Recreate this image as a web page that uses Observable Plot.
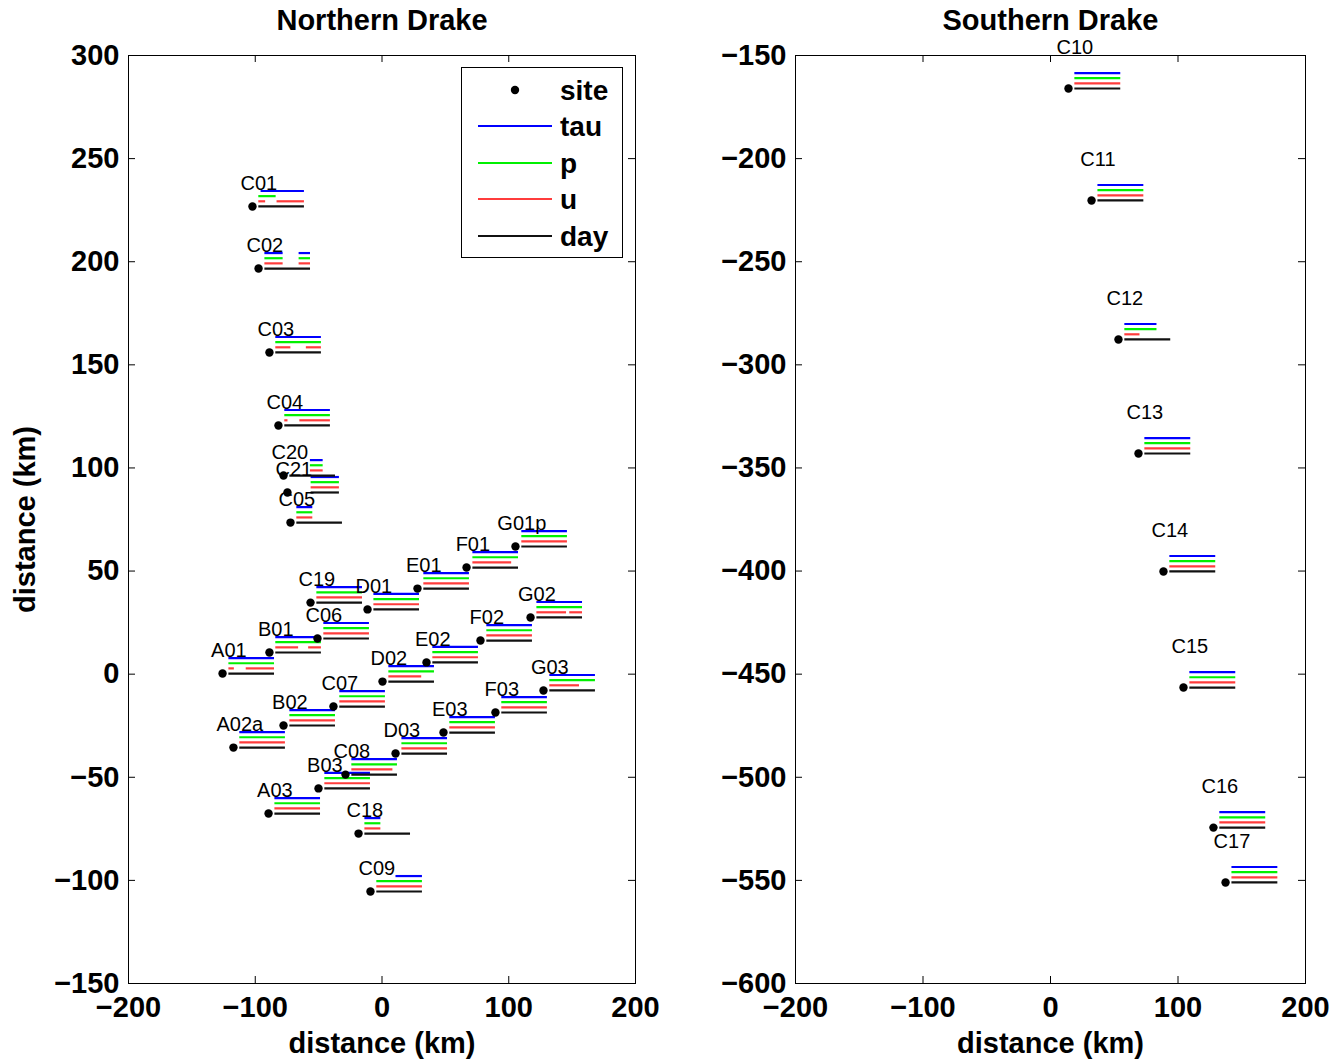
<!DOCTYPE html>
<html><head><meta charset="utf-8">
<script src="https://cdn.jsdelivr.net/npm/d3@7"></script>
<script src="https://cdn.jsdelivr.net/npm/@observablehq/plot@0.6"></script>
<style>
body{margin:0;background:#fff;}
#wrap{position:relative;width:1335px;height:1062px;font-family:"Liberation Sans",Arial,sans-serif;}
#wrap > div.p{position:absolute;top:0;}
#legend{position:absolute;left:461px;top:67px;}
</style></head><body><div id="wrap"></div>
<script>
// ---------- data ----------
const xTicks = [-200, -100, 0, 100, 200];
const northYTicks = [300, 250, 200, 150, 100, 50, 0, -50, -100, -150];
const southYTicks = [-150, -200, -250, -300, -350, -400, -450, -500, -550, -600];

const northSites = ["C01","C02","C03","C04","C20","C21","C05","G01p","F01","E01","D01","C19","G02","F02","C06","B01","E02","A01","D02","G03","C07","F03","B02","E03","A02a","D03","C08","B03","A03","C18","C09"];
const northX = [-102.2,-97.4,-88.8,-81.7,-77.7,-74.6,-72.2,105.3,66.7,28,-11.4,-56.4,117.2,77.7,-50.9,-88.8,35.1,-125.8,0.4,127.4,-38.3,89.5,-77.7,48.5,-117.2,10.7,-28.8,-50.1,-89.5,-18.5,-9.1];
const northY = [226.8,196.7,156,120.6,96.3,88.1,73.5,61.9,51.7,41.5,31.4,34.7,27.5,16.3,17.3,10.5,5.7,0.3,-3.6,-7.9,-15.7,-18.6,-24.9,-28.3,-35.6,-38.5,-48.7,-55.4,-67.6,-77.3,-105.4];

// record coverage, as fractions of the record window, per site (same order as northSites)
const F = [[0,1]];
const northTau = [[[0.05,1]],[[0,0.4],[0.75,1]],F,F,[[0.45,0.73]],[[0.38,1]],[[0,0.35]],F,F,F,F,F,F,F,F,F,F,F,F,F,F,F,F,F,F,F,F,F,F,[[0,0.35]],[[0.42,1]]];
const northP   = [[[0,0.38]],[[0,0.4],[0.75,1]],F,F,[[0.45,0.73]],[[0.38,1]],[[0,0.35]],F,F,F,F,F,F,F,F,F,F,F,F,F,F,F,F,F,F,F,F,F,F,[[0,0.35]],F];
const northU   = [[[0,0.15],[0.4,1]],[[0,0.4],[0.75,1]],[[0,0.33],[0.67,1]],[[0,0.07],[0.33,1]],[[0.45,0.73]],[[0.38,1]],[[0,0.35]],F,[[0,0.85]],F,F,F,[[0,0.65],[0.72,1]],F,F,[[0,0.5],[0.72,1]],F,[[0,0.12],[0.38,1]],[[0,0.72]],[[0,0.65]],F,F,F,F,F,F,[[0,0.9]],F,F,[[0,0.35]],F];
const northDay = [F,F,F,F,F,[[0.38,1]],F,F,F,F,F,F,F,F,F,F,F,F,F,F,F,F,F,F,F,F,F,F,F,F,F];

const southSites = ["C10","C11","C12","C13","C14","C15","C16","C17"];
const southX = [14.1,32.2,53.3,69,88.6,104.3,127.8,137.3];
const southY = [-166,-220.3,-287.7,-343,-400.2,-456.5,-524.4,-551];
const southTau = [F,F,[[0,0.7]],F,F,F,F,F];
const southP   = [F,F,[[0,0.7]],F,F,F,F,F];
const southU   = [F,F,[[0,0.33]],F,F,F,F,F];
const southDay = [F,F,F,F,F,F,F,F];

const legendNames = ["site","tau","p","u","day"];

// ---------- drawing ----------
const H = 928;
const seriesStyle = [
  {key:"tau", color:"#0000ff", dy:7.5},
  {key:"p",   color:"#00f000", dy:5},
  {key:"u",   color:"#ff3c3c", dy:2.5},
  {key:"day", color:"#111111", dy:0}
];
const font = "'Liberation Sans', Arial, Helvetica, sans-serif";
const BIG = 29;

function panel({title, names, xs, ys, cov, yDomain, yTicks, labelDy, left, width, marginLeft, W, yLabel}) {
  const sites = names.map((n,i)=>({name:n, x:xs[i], y:ys[i]}));
  const segs = [];
  seriesStyle.forEach((s, k) => {
    sites.forEach((site, i) => {
      cov[k][i].forEach(([a,b]) => segs.push({x1: site.x + 5 + 36*a, x2: site.x + 5 + 36*b, y: site.y + s.dy, c: s.color}));
    });
  });
  const marks = [
    Plot.frame({stroke:"black"}),
    Plot.tickX(xTicks, {x: d=>d, insetTop: H-7, stroke:"black"}),
    Plot.tickX(xTicks, {x: d=>d, insetBottom: H-7, stroke:"black"}),
    Plot.tickY(yTicks, {y: d=>d, insetRight: W-7, stroke:"black"}),
    Plot.tickY(yTicks, {y: d=>d, insetLeft: W-7, stroke:"black"}),
    Plot.ruleY(segs, {y:"y", x1:"x1", x2:"x2", stroke: d=>d.c, strokeWidth: 2.2}),
    Plot.dot(sites, {x:"x", y:"y", r:4.2, fill:"black", stroke:"none"}),
    Plot.text(sites, {x: d=>d.x+5, y: d=>d.y+labelDy, text:"name", fontSize:20, fontWeight:"normal", fill:"black"}),
    Plot.axisX({ticks: xTicks, tickSize:0, tickPadding:13, label:null, fontSize:BIG, fontWeight:"bold"}),
    Plot.axisY({ticks: yTicks, tickSize:0, tickPadding:9, label:null, fontSize:BIG, fontWeight:"bold"}),
    Plot.text([title], {frameAnchor:"top", dy:-35, lineAnchor:"middle", fontSize:BIG, fontWeight:"bold"}),
    Plot.text(["distance (km)"], {frameAnchor:"bottom", dy:60, lineAnchor:"middle", fontSize:BIG, fontWeight:"bold"})
  ];
  if (yLabel) marks.push(Plot.text(["distance (km)"], {frameAnchor:"left", dx:-103, rotate:-90, textAnchor:"middle", lineAnchor:"middle", fontSize:BIG, fontWeight:"bold"}));
  const svg = Plot.plot({
    width, height: 1062,
    marginLeft, marginRight: width - marginLeft - W, marginTop: 55, marginBottom: 1062-55-H,
    x: {domain:[-200,200]},
    y: {domain: yDomain},
    color: {type:"identity"},
    style: {fontFamily: font, fontSize: BIG + "px", fontWeight:"bold", color:"black", background:"transparent", overflow:"visible"},
    marks
  });
  const div = document.createElement("div");
  div.className = "p";
  div.style.left = left + "px";
  div.appendChild(svg);
  return div;
}

const wrap = document.getElementById("wrap");
wrap.appendChild(panel({title:"Northern Drake", names:northSites, xs:northX, ys:northY,
  cov:[northTau,northP,northU,northDay], yDomain:[-150,300], yTicks:northYTicks, labelDy:11,
  left:0, width:660, marginLeft:128, W:507, yLabel:true}));
wrap.appendChild(panel({title:"Southern Drake", names:southSites, xs:southX, ys:southY,
  cov:[southTau,southP,southU,southDay], yDomain:[-600,-150], yTicks:southYTicks, labelDy:20,
  left:660, width:675, marginLeft:135, W:510, yLabel:false}));

// legend
const lg = d3.select(wrap).append("svg").attr("id","legend").attr("width",162).attr("height",191)
  .style("font-family", font).style("font-size","28px").style("font-weight","bold");
lg.append("rect").attr("x",0.5).attr("y",0.5).attr("width",161).attr("height",190).attr("fill","white").attr("stroke","black");
const rowsY = [23, 59, 96, 132, 169];
legendNames.forEach((n, i) => {
  const g = lg.append("g");
  if (i === 0) g.append("circle").attr("cx",54).attr("cy",rowsY[i]).attr("r",4.2).attr("fill","black");
  else g.append("line").attr("x1",17).attr("x2",91).attr("y1",rowsY[i]).attr("y2",rowsY[i])
        .attr("stroke", seriesStyle[i-1].color).attr("stroke-width",2);
  g.append("text").attr("x",99).attr("y",rowsY[i]).attr("dy","0.35em").text(n);
});
</script></body></html>
